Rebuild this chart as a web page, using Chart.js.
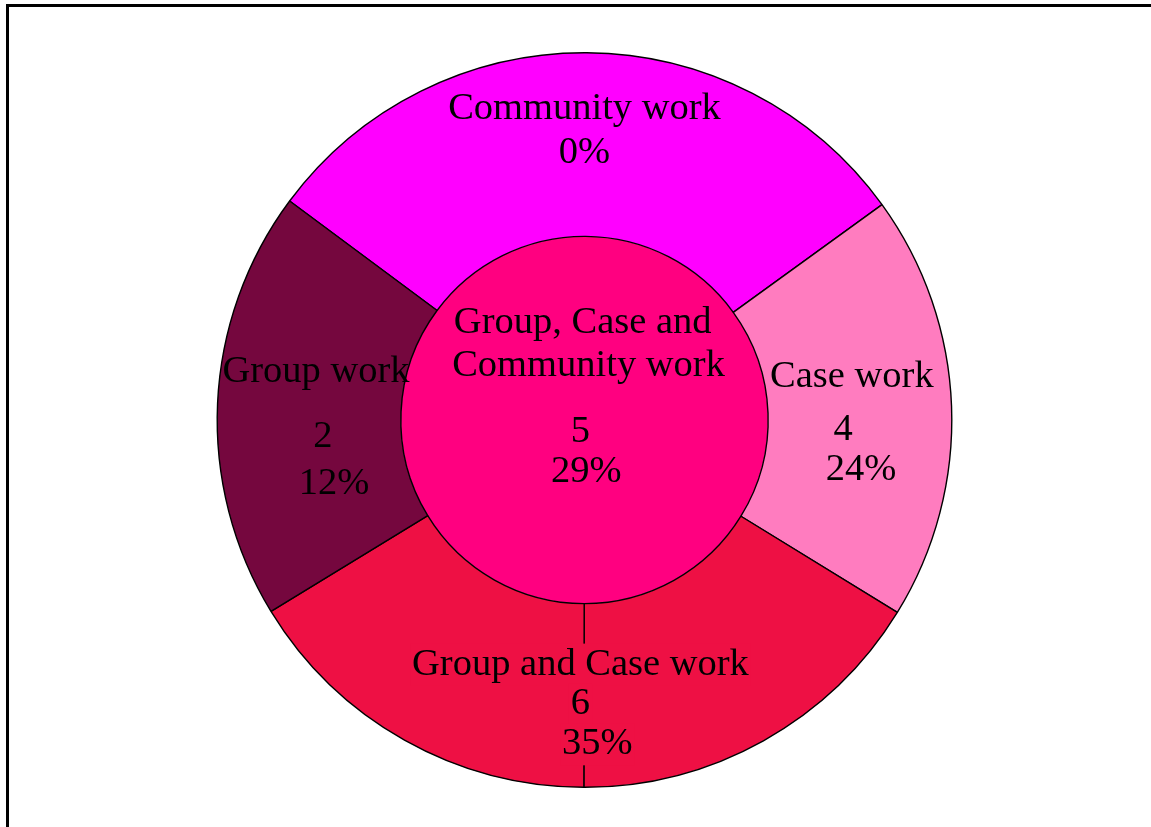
<!DOCTYPE html>
<html>
<head>
<meta charset="utf-8">
<title>Social work methods</title>
<script src="https://cdn.jsdelivr.net/npm/chart.js@4.4.0/dist/chart.umd.min.js"></script>
<style>
  html, body { margin: 0; padding: 0; background: #ffffff; }
  #wrap { position: relative; width: 1151px; height: 827px; overflow: hidden; }
  #frame {
    position: absolute; left: 6px; top: 4px; right: -10px; bottom: -10px;
    border-top: 3px solid #000; border-left: 3px solid #000;
    pointer-events: none;
  }
  canvas { position: absolute; left: 0; top: 0; }
</style>
</head>
<body>
<div id="wrap">
  <canvas id="methodsChart"></canvas>
  <div id="frame"></div>
</div>
<script>
// 사례 수 (ring slices first, centre circle last)
const categories = ['Community work', 'Case work', 'Group and Case work', 'Group work', 'Group, Case and Community work'];
const counts = [0, 4, 6, 2, 5];
const percents = [0, 24, 35, 12, 29];

// angular size of each outer slice, in degrees, clockwise from the top-left edge
const ringDegrees = [107.5, 67.5, 117, 68];

const ringColors = ['#ff00ff', '#ff7cbf', '#ee1044', '#75073e'];
const centreColor = '#ff0080';

// the bottom slice is drawn as two halves so its middle divider shows
var ringData = [ringDegrees[0], ringDegrees[1], ringDegrees[2] / 2, ringDegrees[2] / 2, ringDegrees[3]];
var ringFill = [ringColors[0], ringColors[1], ringColors[2], ringColors[2], ringColors[3]];

// label lines: text, x and y as fractions of the outer radius from the centre
var labelLines = [
  [categories[0], 0.0, -0.848, null],
  [percents[0] + '%', 0.0, -0.726, null],
  [categories[3], -0.731, -0.130, null],
  [String(counts[3]), -0.712, 0.046, null],
  [percents[3] + '%', -0.682, 0.174, null],
  [categories[1], 0.728, -0.117, null],
  [String(counts[1]), 0.704, 0.027, null],
  [percents[1] + '%', 0.753, 0.136, null],
  ['Group, Case and', -0.005, -0.264, null],
  ['Community work', 0.011, -0.147, null],
  [String(counts[4]), -0.011, 0.033, null],
  [percents[4] + '%', 0.005, 0.141, null],
  [categories[2], -0.011, 0.666, ringColors[2]],
  [String(counts[2]), -0.011, 0.774, ringColors[2]],
  [percents[2] + '%', 0.035, 0.883, ringColors[2]]
];

var labelPlugin = {
  id: 'sliceText',
  afterDatasetsDraw: function(chart) {
    var arc = chart.getDatasetMeta(0).data[0];
    if (!arc) return;
    var cx = arc.x, cy = arc.y, r = arc.outerRadius;
    var ctx = chart.ctx;
    ctx.save();
    ctx.font = '38.5px "Liberation Serif", "Times New Roman", serif';
    ctx.textAlign = 'center';
    ctx.textBaseline = 'middle';
    labelLines.forEach(function(l) {
      var x = cx + l[1] * r, y = cy + l[2] * r;
      if (l[3]) {
        // 구분선이 글자 뒤로 지나가지 않게 배경을 덮음
        var w = ctx.measureText(l[0]).width;
        ctx.fillStyle = l[3];
        ctx.fillRect(x - w / 2 - 2, y - 21, w + 4, 42);
      }
      ctx.fillStyle = '#000000';
      ctx.fillText(l[0], x, y);
    });
    ctx.restore();
  }
};

var canvas = document.getElementById('methodsChart');
canvas.width = 1151;
canvas.height = 827;

new Chart(canvas.getContext('2d'), {
  type: 'pie',
  data: {
    labels: [categories[0], categories[1], categories[2], categories[2], categories[3]],
    datasets: [{
      data: ringData,
      backgroundColor: ringFill,
      borderColor: '#000000',
      borderWidth: 1.4,
      weight: 1
    }, {
      data: [counts[4]],
      backgroundColor: [centreColor],
      borderWidth: 0,
      weight: 1
    }]
  },
  options: {
    responsive: false,
    animation: false,
    events: [],
    rotation: -53.4,
    layout: { padding: { left: 216.5, right: 198.5, top: 52, bottom: 39 } },
    plugins: {
      legend: { display: false },
      tooltip: { enabled: false }
    }
  },
  plugins: [labelPlugin]
});
</script>
</body>
</html>
